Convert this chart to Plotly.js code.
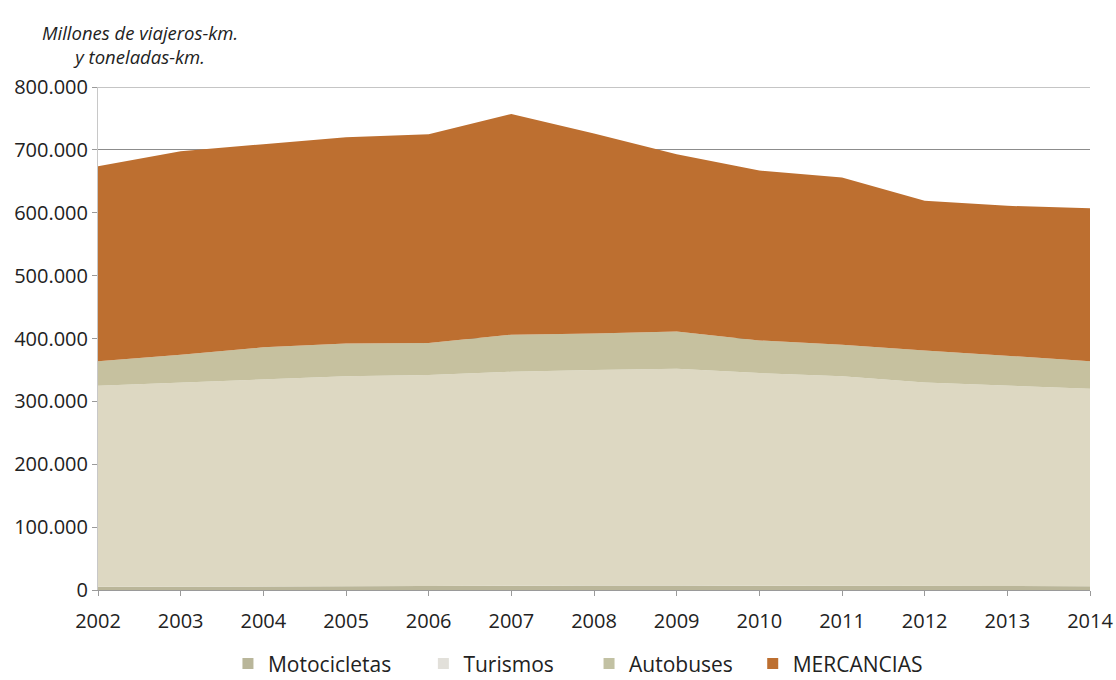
<!DOCTYPE html>
<html>
<head>
<meta charset="utf-8">
<script src="https://cdn.plot.ly/plotly-3.0.1.min.js"></script>
<style>
html,body{margin:0;padding:0;background:#fff;}
#chart{width:1116px;height:680px;}
</style>
</head>
<body>
<div id="chart"></div>
<script>
const years = [2002, 2003, 2004, 2005, 2006, 2007, 2008, 2009, 2010, 2011, 2012, 2013, 2014];
const motocicletas = [5000, 5500, 6000, 6500, 6500, 7000, 7000, 7000, 7000, 6500, 6000, 6000, 6000];
const turismos = [320000, 324500, 329000, 333500, 335500, 340000, 343000, 345000, 338000, 333500, 324000, 319000, 314000];
const autobuses = [39000, 44000, 51000, 52000, 51000, 59000, 58000, 59000, 52000, 50000, 51000, 47000, 44000];
const mercancias = [310000, 324000, 323000, 328000, 332000, 351000, 318000, 282000, 270000, 266000, 238000, 239000, 243000];
const seriesNames = ['Motocicletas', 'Turismos', 'Autobuses', 'MERCANCIAS'];
const yTicks = [0, 100000, 200000, 300000, 400000, 500000, 600000, 700000, 800000];

const colors = ['#BAB699', '#DDD8C2', '#C6C19F', '#BD6F30'];
const legendColors = ['#B9B69A', '#E2E0DA', '#C2C1A3', '#BD6F30'];
const legendX = [0.131, 0.328, 0.495, 0.66];
const legendIds = ['legend', 'legend2', 'legend3', 'legend4'];

const series = [motocicletas, turismos, autobuses, mercancias];
const data = series.map((vals, i) => ({
  type: 'scatter',
  mode: 'lines',
  x: years,
  y: vals,
  name: seriesNames[i],
  stackgroup: 'one',
  line: {width: 0, color: colors[i]},
  fillcolor: colors[i],
  showlegend: false
}));
// legend entries (square swatches)
seriesNames.forEach((nm, i) => {
  data.push({
    type: 'scatter',
    mode: 'markers',
    x: [null],
    y: [null],
    name: nm,
    legend: legendIds[i],
    marker: {symbol: 'square', size: 11, color: legendColors[i]},
    showlegend: true
  });
});

const legendBase = {
  orientation: 'h',
  xanchor: 'left',
  y: -0.147,
  yanchor: 'middle',
  font: {size: 21, color: '#222', family: 'Open Sans, sans-serif'},
  itemwidth: 30,
  bgcolor: 'rgba(0,0,0,0)'
};

const layout = {
  width: 1116,
  height: 680,
  paper_bgcolor: '#ffffff',
  plot_bgcolor: '#ffffff',
  separators: ',.',
  margin: {l: 98, r: 26, t: 87, b: 90, autoexpand: false},
  font: {family: 'Open Sans, DejaVu Sans, sans-serif', size: 16, color: '#222'},
  xaxis: {
    range: [2002, 2014],
    tickvals: years,
    ticktext: years.map(String),
    showgrid: false,
    zeroline: false,
    showline: true,
    linecolor: '#9a9a9a',
    linewidth: 1,
    ticks: 'outside',
    ticklen: 5,
    tickcolor: '#9a9a9a',
    ticklabelstandoff: 8,
    tickfont: {size: 20, color: '#222'}
  },
  yaxis: {
    range: [0, 800000],
    tickvals: yTicks,
    tickformat: ',d',
    showgrid: true,
    gridcolor: '#8c8c8c',
    gridwidth: 1,
    zeroline: false,
    showline: true,
    linecolor: '#c8c8c8',
    ticks: 'outside',
    ticklen: 5,
    tickcolor: '#9a9a9a',
    tickfont: {size: 20, color: '#222'}
  },
  legend: Object.assign({}, legendBase, {x: legendX[0]}),
  legend2: Object.assign({}, legendBase, {x: legendX[1]}),
  legend3: Object.assign({}, legendBase, {x: legendX[2]}),
  legend4: Object.assign({}, legendBase, {x: legendX[3]}),
  shapes: [{
    type: 'line', xref: 'paper', yref: 'y',
    x0: 0, x1: 1, y0: yTicks[yTicks.length - 1], y1: yTicks[yTicks.length - 1],
    line: {color: '#8c8c8c', width: 1}
  }],
  annotations: [{
    xref: 'paper', yref: 'paper',
    x: 0.042, y: 1.137,
    xanchor: 'center', yanchor: 'top',
    showarrow: false,
    align: 'center',
    text: '<i>Millones de viajeros-km.<br>y toneladas-km.</i>',
    font: {size: 18.5, color: '#222'}
  }],
  showlegend: true
};

Plotly.newPlot('chart', data, layout, {displayModeBar: false, staticPlot: true});
</script>
</body>
</html>
